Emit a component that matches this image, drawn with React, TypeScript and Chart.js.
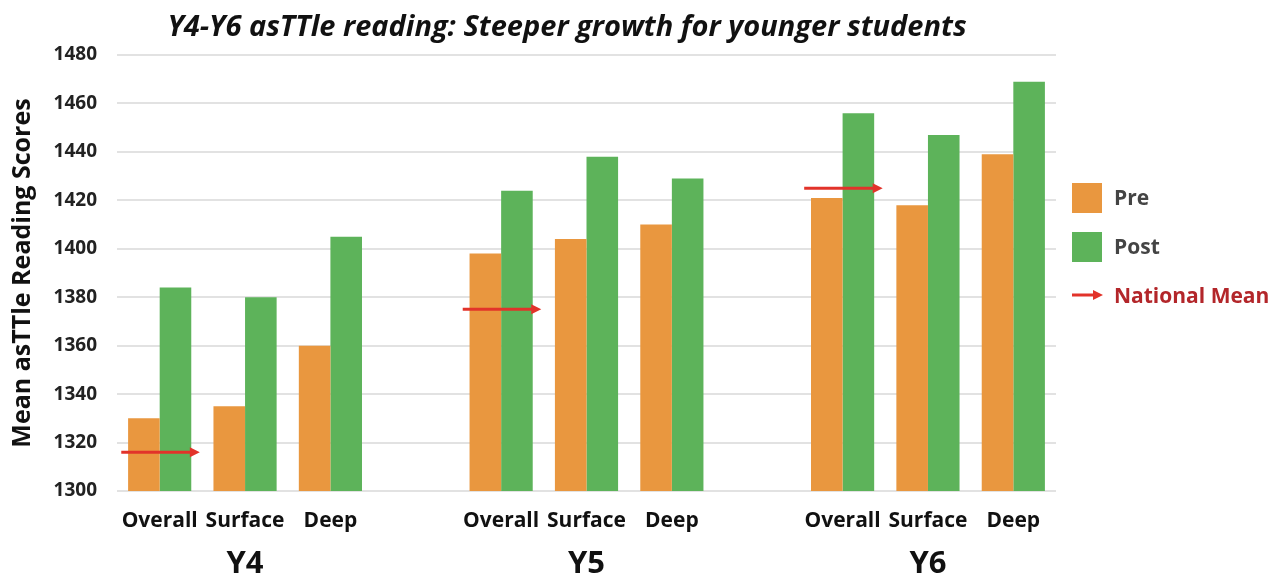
import React, { useEffect, useRef } from "react";
import { Chart, registerables } from "chart.js";

Chart.register(...registerables);

const categories = ["Overall", "Surface", "Deep", "", "Overall", "Surface", "Deep", "", "Overall", "Surface", "Deep"];
const groupLabels = ["", "Y4", "", "", "", "Y5", "", "", "", "Y6", ""];
const preScores = [1330, 1335, 1360, null, 1398, 1404, 1410, null, 1421, 1418, 1439];
const postScores = [1384, 1380, 1405, null, 1424, 1438, 1429, null, 1456, 1447, 1469];
const nationalMean = [1316, 1375, 1425];
const nationalMeanIndex = [0, 4, 8];
const yMin = 1300;
const yMax = 1480;
const yStep = 20;
const titleText = "Y4-Y6 asTTle reading: Steeper growth for younger students";
const yTitle = "Mean asTTle Reading Scores";
const legendLabels = ["Pre", "Post", "National Mean"];

const FONT = "'Open Sans', 'Noto Sans', sans-serif";
const ORANGE = "#E9973F";
const GREEN = "#5DB35A";
const RED = "#E2332A";

function drawArrow(ctx: CanvasRenderingContext2D, x0: number, x1: number, y: number) {
  ctx.save();
  ctx.strokeStyle = RED;
  ctx.fillStyle = RED;
  ctx.lineWidth = 3;
  ctx.beginPath();
  ctx.moveTo(x0, y);
  ctx.lineTo(x1 - 8, y);
  ctx.stroke();
  ctx.beginPath();
  ctx.moveTo(x1, y);
  ctx.lineTo(x1 - 10, y - 5);
  ctx.lineTo(x1 - 10, y + 5);
  ctx.closePath();
  ctx.fill();
  ctx.restore();
}

const overlayPlugin = {
  id: "overlay",
  afterDatasetsDraw(chart: any) {
    const ctx: CanvasRenderingContext2D = chart.ctx;
    const xs = chart.scales.x;
    const ys = chart.scales.y;
    const slot = xs.getPixelForValue(1) - xs.getPixelForValue(0);
    nationalMean.forEach((v, i) => {
      const xc = xs.getPixelForValue(nationalMeanIndex[i]);
      const y = ys.getPixelForValue(v);
      drawArrow(ctx, xc - 0.45 * slot, xc + 0.47 * slot, y);
    });
  },
  afterDraw(chart: any) {
    const ctx: CanvasRenderingContext2D = chart.ctx;
    const area = chart.chartArea;
    ctx.save();
    // title
    ctx.font = `italic bold 29px ${FONT}`;
    ctx.fillStyle = "#111";
    ctx.textAlign = "center";
    ctx.textBaseline = "middle";
    ctx.fillText(titleText, 559, 20);
    // legend
    const lx = area.right + 16;
    ctx.textAlign = "left";
    ctx.font = `bold 21px ${FONT}`;
    ctx.fillStyle = ORANGE;
    ctx.fillRect(lx, 175, 30, 30);
    ctx.fillStyle = GREEN;
    ctx.fillRect(lx, 224, 30, 30);
    drawArrow(ctx, lx, lx + 31, 287);
    ctx.fillStyle = "#444";
    ctx.fillText(legendLabels[0], lx + 42, 191);
    ctx.fillText(legendLabels[1], lx + 42, 240);
    ctx.fillStyle = "#B3262A";
    ctx.fillText(legendLabels[2], lx + 42, 289);
    ctx.restore();
  },
};

export default function App() {
  const ref = useRef<HTMLCanvasElement>(null);
  useEffect(() => {
    if (!ref.current) return;
    Chart.defaults.font.family = FONT;
    const chart = new Chart(ref.current, {
      type: "bar",
      data: {
        labels: categories,
        datasets: [
          { label: legendLabels[0], data: preScores, backgroundColor: ORANGE, categoryPercentage: 0.74, barPercentage: 1 },
          { label: legendLabels[1], data: postScores, backgroundColor: GREEN, categoryPercentage: 0.74, barPercentage: 1 },
        ],
      },
      options: {
        animation: false,
        responsive: true,
        maintainAspectRatio: false,
        layout: { padding: { top: 47, right: 223, left: 0, bottom: 0 } },
        plugins: { legend: { display: false }, title: { display: false }, tooltip: { enabled: false } },
        scales: {
          x: {
            grid: { display: false, drawTicks: false },
            border: { display: false },
            ticks: { color: "#111", font: { size: 21, weight: "bold" }, padding: 17, autoSkip: false, maxRotation: 0 },
            afterFit: (s: any) => { s.height = 50; },
          },
          x2: {
            type: "category",
            labels: groupLabels,
            position: "bottom",
            offset: true,
            grid: { display: false, drawTicks: false },
            border: { display: false },
            ticks: { color: "#111", font: { size: 31, weight: "bold" }, padding: 5, autoSkip: false, maxRotation: 0 },
            afterFit: (s: any) => { s.height = 40; },
          },
          y: {
            min: yMin,
            max: yMax,
            ticks: {
              stepSize: yStep,
              color: "#222",
              font: { size: 19, weight: "bold" },
              padding: 20,
              callback: (v: any) => String(v),
            },
            grid: { color: "#e2e2e2", lineWidth: 2, drawTicks: false },
            border: { display: false },
            title: { display: true, text: yTitle, color: "#111", font: { size: 25, weight: "bold" }, padding: { top: 0, bottom: 0 } },
            afterFit: (s: any) => { s.width = 109; },
          },
        },
      } as any,
      plugins: [overlayPlugin],
    });
    return () => chart.destroy();
  }, []);
  return (
    <div style={{ width: 1271, height: 573, position: "relative" }}>
      <canvas ref={ref} />
    </div>
  );
}
